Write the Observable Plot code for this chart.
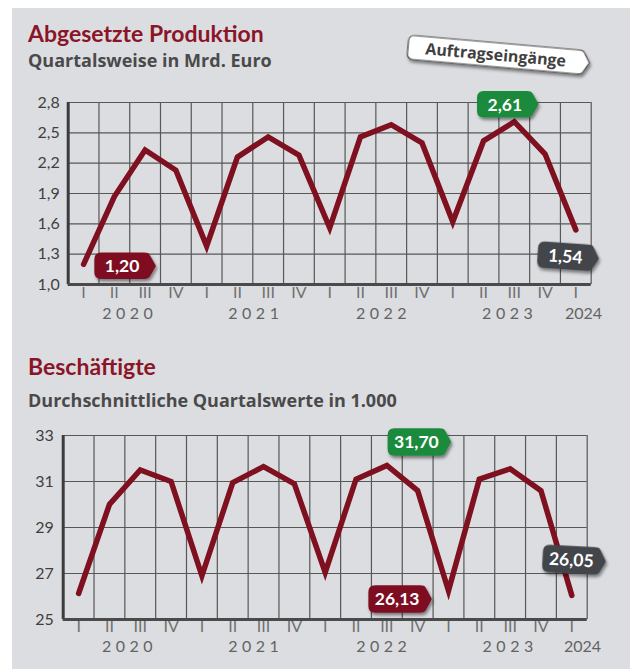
<!DOCTYPE html>
<html><head><meta charset="utf-8">
<script src="https://cdn.jsdelivr.net/npm/d3@7"></script>
<script src="https://cdn.jsdelivr.net/npm/@observablehq/plot@0.6"></script>
<style>
body{margin:0;width:630px;height:669px;overflow:hidden;background:#fff;font-family:Lato,"Open Sans",sans-serif;}
#page{position:relative;width:630px;height:669px;}
#bg{position:absolute;left:12px;top:8px;right:0;bottom:0;background:#dcdde1;}
.title{position:absolute;left:28px;color:#8a1528;font-weight:700;font-size:23px;line-height:23px;white-space:nowrap;}
.sub{position:absolute;left:28px;color:#4a4a4a;font-weight:700;font-size:18px;line-height:18px;white-space:nowrap;font-family:"Open Sans",Lato,sans-serif;}
.chart{position:absolute;left:0;}
g[aria-description=years]{letter-spacing:4.5px;}
</style></head><body>
<div id="page"><div id="bg"></div>
<div id="c1" class="chart" style="top:20px"></div>
<div id="c2" class="chart" style="top:420px"></div>
<div class="title" style="top:21.5px">Abgesetzte Produktion</div>
<div class="sub" style="top:51px">Quartalsweise in Mrd. Euro</div>
<div class="title" style="top:355px">Beschäftigte</div>
<div class="sub" style="top:391px">Durchschnittliche Quartalswerte in 1.000</div>
</div>
<script>
// ---- data ----
const quarterLabels = ["I","II","III","IV","I","II","III","IV","I","II","III","IV","I","II","III","IV","I"];
const quarterIndex = [0,1,2,3,4,5,6,7,8,9,10,11,12,13,14,15,16];
const production = [1.20,1.87,2.33,2.13,1.38,2.26,2.46,2.28,1.56,2.46,2.58,2.40,1.62,2.42,2.61,2.29,1.54];
const employees = [26.13,30.0,31.5,31.0,26.9,30.95,31.65,30.9,27.05,31.1,31.70,30.6,26.25,31.1,31.55,30.6,26.05];
const years = ["2020","2021","2022","2023"];
const lastYear = ["2024"];
const yearPosTop = [1.5,5.6,9.75,13.85];
const yearPosBottom = [1.65,5.75,9.9,14.0];
const lastYearPosTop = [16.25];
const lastYearPosBottom = [16.35];
const prodTicks = [1.0,1.3,1.6,1.9,2.2,2.5,2.8];
const empTicks = [25,27,29,31,33];
const gridX = [-0.5,0.5,1.5,2.5,3.5,4.5,5.5,6.5,7.5,8.5,9.5,10.5,11.5,12.5,13.5,14.5,15.5,16.5];
// badges: [index, label, colour kind]
const prodBadges = [[0,"1,20","red"],[14,"2,61","green"],[16,"1,54","gray"]];
const empBadges = [[0,"26,13","red"],[10,"31,70","green"],[16,"26,05","gray"]];

const LINE = "#7e1020";
const COLORS = {red:"#7e1020", green:"#1c8a3c", gray:"#434548"};
const FONT = "Lato, 'Open Sans', sans-serif";

function scaleFn(s){
  if (typeof s.apply === "function") return s.apply;
  const [d0,d1]=s.domain,[r0,r1]=s.range;
  return v => r0 + (v-d0)/(d1-d0)*(r1-r0);
}

function makeChart(opts){
  const {values, ticks, fmt, width, height, mt, mb, ml, mr, tickDx, romanDy, yearDy, yearPos, lastPos} = opts;
  const data = quarterIndex.map(i => ({i, v: values[i]}));
  return Plot.plot({
    width, height, marginTop: mt, marginBottom: mb, marginLeft: ml, marginRight: mr,
    style: {background: "transparent", overflow: "visible", fontFamily: FONT},
    x: {domain: [-0.5, 16.5], axis: null},
    y: {domain: [ticks[0], ticks[ticks.length-1]], axis: null},
    marks: [
      Plot.ruleY(ticks, {stroke: "#575757", strokeWidth: 1.2}),
      Plot.ruleX(gridX, {stroke: "#575757", strokeWidth: 1.2}),
      Plot.ruleX([-0.5], {stroke: "#3c3c3c", strokeWidth: 3}),
      Plot.ruleY([ticks[0]], {stroke: "#4a4a4a", strokeWidth: 3}),
      Plot.line(data, {x: "i", y: "v", stroke: LINE, strokeWidth: 5.5, strokeLinejoin: "miter", strokeMiterlimit: 10}),
      Plot.text(ticks, {y: d => d, frameAnchor: "left", dx: tickDx, textAnchor: "end", text: fmt, fontSize: 16, fill: "#3f3f3f"}),
      Plot.text(quarterIndex, {x: d => d, frameAnchor: "bottom", dy: romanDy, text: d => quarterLabels[d], fontSize: 16, fill: "#707070"}),
      Plot.text(years, {x: (d, k) => yearPos[k], frameAnchor: "bottom", dy: yearDy, text: d => d, fontSize: 16, fill: "#636363", ariaDescription: "years"}),
      Plot.text(lastYear, {x: (d, k) => lastPos[k], frameAnchor: "bottom", dy: yearDy, text: d => d, fontSize: 16, fill: "#636363"})
    ]
  });
}

function addShadow(svg, id){
  const f = svg.append("defs").append("filter").attr("id", id)
    .attr("x","-30%").attr("y","-30%").attr("width","160%").attr("height","170%");
  f.append("feDropShadow").attr("dx",1.5).attr("dy",2.5).attr("stdDeviation",1.6)
    .attr("flood-color","#000").attr("flood-opacity",0.45);
}

function badgePath(w,h){
  const x0=-w/2, x1=w/2, y0=-h/2, y1=h/2, r=6, p=8;
  return `M${x0+r},${y0} L${x1-p-3},${y0} Q${x1-p+1},${y0} ${x1-p+2},${y0+2} L${x1},${-0} L${x1-p+2},${y1-2} Q${x1-p+1},${y1} ${x1-p-3},${y1} L${x0+r},${y1} Q${x0},${y1} ${x0},${y1-r} L${x0},${y0+r} Q${x0},${y0} ${x0+r},${y0} Z`;
}

function badge(svg, shadowId, cx, cy, w, h, label, fill, rot, textFill, fs, stroke, family){
  const g = svg.append("g").attr("transform", `translate(${cx},${cy}) rotate(${rot})`);
  g.append("path").attr("d", badgePath(w,h)).attr("fill", fill)
    .attr("stroke", stroke || fill).attr("stroke-width", stroke ? 1.2 : 1.5).attr("stroke-linejoin","round")
    .attr("filter", `url(#${shadowId})`);
  g.append("text").attr("x", -3).attr("y", 0).attr("dy","0.36em").attr("text-anchor","middle")
    .attr("font-family", family || FONT).attr("font-weight", 700).attr("font-size", fs).attr("fill", textFill)
    .text(label);
}

// ---- chart 1 ----
const c1 = makeChart({values: production, ticks: prodTicks, fmt: d => d.toFixed(1).replace(".", ","),
  width: 630, height: 310, mt: 82, mb: 46, ml: 67.7, mr: 39.3, tickDx: -8.5, romanDy: 13.5, yearDy: 34,
  yearPos: yearPosTop, lastPos: lastYearPosTop});
document.getElementById("c1").appendChild(c1);
{
  const svg = d3.select(c1); addShadow(svg, "sh1");
  const X = scaleFn(c1.scale("x")), Y = scaleFn(c1.scale("y"));
  const off = {red:[42,2,0], green:[-6,-17,0], gray:[-7,27,4]};
  for (const [i,label,kind] of prodBadges){
    const [dx,dy,rot] = off[kind];
    badge(svg, "sh1", X(i)+dx, Y(production[i])+dy, 60, 25, label, COLORS[kind], rot, "#fff", 17.5);
  }
  // "Auftragseingänge" tag, anchored to the frame's top-right corner
  const right = X(16.5), top = Y(prodTicks[prodTicks.length-1]);
  badge(svg, "sh1", right - 92, top - 47, 182, 24, "Auftragseingänge", "#ffffff", 5, "#404040", 16, "#444", "'Open Sans', Lato, sans-serif");
}

// ---- chart 2 ----
const c2 = makeChart({values: employees, ticks: empTicks, fmt: d => String(d),
  width: 630, height: 249, mt: 15, mb: 50, ml: 62.7, mr: 43.3, tickDx: -9.5, romanDy: 12, yearDy: 32.5,
  yearPos: yearPosBottom, lastPos: lastYearPosBottom});
document.getElementById("c2").appendChild(c2);
{
  const svg = d3.select(c2); addShadow(svg, "sh2");
  const X = scaleFn(c2.scale("x")), Y = scaleFn(c2.scale("y"));
  const off = {red:[322,6,0], green:[33,-23,0], gray:[3,-35,3]};
  for (const [i,label,kind] of empBadges){
    const [dx,dy,rot] = off[kind];
    badge(svg, "sh2", X(i)+dx, Y(employees[i])+dy, 62, 26, label, COLORS[kind], rot, "#fff", 17.5);
  }
}
</script>
</body></html>
